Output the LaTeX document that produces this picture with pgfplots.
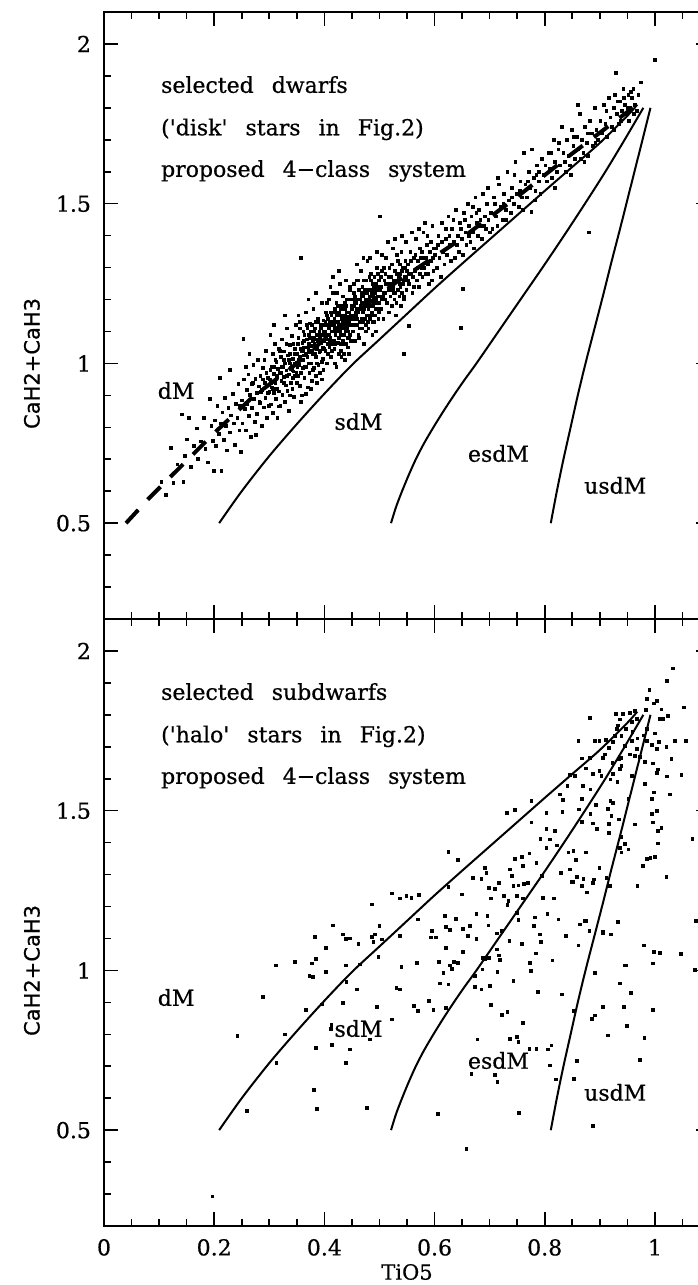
\documentclass[border=0pt]{standalone}
\usepackage{fontspec}
\setmainfont{DejaVu Serif}[FakeBold=0.6]
\setsansfont{DejaVu Sans}[FakeBold=0.6]
\usepackage{pgfplots}
\usepackage{pgfplotstable}
\pgfplotsset{compat=1.18}

\pgfplotstableread{
x y
0.209 0.50
0.25 0.60
0.30 0.71
0.35 0.81
0.40 0.905
0.45 0.995
0.50 1.075
0.55 1.155
0.60 1.235
0.65 1.312
0.70 1.388
0.75 1.464
0.80 1.54
0.85 1.615
0.90 1.69
0.95 1.775
0.968 1.81
}\sdMline
\pgfplotstableread{
x y
0.521 0.50
0.530 0.55
0.541 0.60
0.553 0.65
0.566 0.70
0.581 0.75
0.598 0.80
0.616 0.85
0.635 0.90
0.655 0.95
0.676 1.00
0.716 1.10
0.756 1.20
0.796 1.30
0.835 1.40
0.873 1.50
0.910 1.60
0.945 1.70
0.979 1.80
}\esdMline
\pgfplotstableread{
x y
0.811 0.50
0.822 0.60
0.834 0.70
0.847 0.80
0.860 0.90
0.874 1.00
0.889 1.10
0.904 1.20
0.920 1.31
0.938 1.43
0.957 1.56
0.976 1.69
0.992 1.80
}\usdMline
\pgfplotstableread{
x y
0.04 0.50
0.08 0.575
0.205 0.79
0.27 0.895
0.343 0.99
0.43 1.12
0.531 1.255
0.64 1.38
0.749 1.52
0.846 1.652
0.96 1.80
}\dwarfline

\pgfplotstableread{
x y
0.104 0.63
0.112 0.588
0.121 0.735
0.126 0.627
0.133 0.684
0.142 0.84
0.144 0.63
0.147 0.71
0.151 0.762
0.154 0.83
0.158 0.676
0.163 0.741
0.168 0.797
0.171 0.702
0.176 0.756
0.181 0.83
0.184 0.733
0.188 0.69
0.192 0.89
0.195 0.805
0.198 0.758
0.199 0.664
0.201 0.822
0.203 0.741
0.206 0.868
0.208 0.779
0.210 0.955
0.212 0.812
0.213 0.663
0.215 0.847
0.217 0.761
0.219 0.893
0.221 0.805
0.223 0.728
0.226 0.861
0.228 0.98
0.229 0.784
0.231 0.837
0.234 0.905
0.236 0.812
0.238 0.745
0.240 0.874
0.242 0.829
0.244 0.936
0.246 0.79
0.247 0.866
0.249 0.722
0.250 0.884
0.251 0.812
0.253 1.076
0.254 0.95
0.256 0.857
0.257 0.79
0.259 0.918
0.260 0.873
0.262 0.966
0.263 0.835
0.265 0.902
0.266 0.77
0.268 0.935
0.269 0.861
0.271 0.995
0.272 0.889
0.274 0.818
0.275 0.952
0.277 0.907
0.278 0.843
0.280 1.012
0.281 0.928
0.283 0.876
0.284 0.96
0.286 0.804
0.287 0.917
0.289 0.985
0.290 0.862
0.292 0.94
0.293 0.893
0.294 1.04
0.296 0.83
0.297 0.955
0.298 0.908
0.299 0.867
0.258 0.99
0.264 1.03
0.276 0.776
0.282 0.88
0.288 0.95
0.291 1.01
0.270 0.94
0.285 0.91
0.295 0.97
0.300 0.91
0.301 0.95
0.302 1.09
0.303 0.872
0.304 0.991
0.305 0.925
0.306 1.03
0.307 0.845
0.308 0.968
0.309 0.907
0.310 1.06
0.311 0.94
0.312 0.889
0.313 1.005
0.314 0.958
0.315 0.83
0.316 0.982
0.317 1.045
0.318 0.912
0.319 0.97
0.320 0.866
0.321 1.02
0.322 0.945
0.323 1.075
0.324 0.902
0.325 0.99
0.326 0.958
0.327 1.038
0.328 0.88
0.329 1.0
0.330 0.931
0.331 0.978
0.332 1.11
0.333 0.915
0.334 1.025
0.335 0.966
0.336 0.852
0.337 1.0
0.338 1.058
0.339 0.94
0.340 0.99
0.341 1.085
0.342 0.92
0.343 1.015
0.344 0.975
0.345 0.895
0.346 1.045
0.347 0.96
0.348 1.12
0.349 1.002
0.350 0.938
0.302 0.98
0.306 0.92
0.311 1.01
0.315 0.96
0.319 1.04
0.323 0.99
0.327 0.94
0.331 1.06
0.335 1.01
0.339 0.985
0.343 0.955
0.347 1.03
0.308 1.12
0.318 0.865
0.328 1.15
0.338 0.9
0.344 1.06
0.349 0.97
0.358 1.33
0.303 0.94
0.309 0.99
0.314 0.92
0.321 0.97
0.326 1.01
0.332 0.96
0.337 1.03
0.342 0.98
0.346 1.0
0.351 0.99
0.356 1.02
0.359 1.04
0.351 1.03
0.352 0.96
0.353 1.08
0.354 0.995
0.355 1.13
0.356 0.93
0.357 1.045
0.358 1.01
0.359 0.9
0.360 1.065
0.361 0.985
0.362 1.1
0.363 1.025
0.364 0.955
0.365 1.05
0.366 1.16
0.367 0.99
0.368 1.075
0.369 1.02
0.370 0.925
0.371 1.04
0.372 1.09
0.373 0.97
0.374 1.125
0.375 1.055
0.376 1.0
0.377 0.945
0.378 1.08
0.379 1.03
0.380 1.17
0.381 0.985
0.382 1.06
0.383 1.11
0.384 1.02
0.385 0.96
0.386 1.075
0.387 1.045
0.388 1.14
0.389 0.995
0.390 1.09
0.391 1.035
0.392 0.97
0.393 1.12
0.394 1.065
0.395 1.005
0.396 1.19
0.397 1.05
0.398 0.98
0.399 1.1
0.400 1.07
0.352 1.06
0.354 1.01
0.356 1.11
0.358 0.97
0.361 1.04
0.363 1.07
0.365 0.99
0.368 1.12
0.370 1.05
0.372 1.0
0.375 1.1
0.377 1.04
0.379 0.98
0.381 1.08
0.383 1.03
0.385 1.13
0.387 1.0
0.389 1.06
0.391 1.1
0.393 1.04
0.395 1.09
0.397 1.015
0.399 1.045
0.357 0.88
0.366 0.905
0.376 0.92
0.386 0.94
0.396 0.95
0.371 1.2
0.384 1.22
0.353 1.15
0.362 1.01
0.374 1.035
0.388 1.07
0.398 1.135
0.362 1.05
0.364 1.09
0.367 1.03
0.369 1.11
0.372 1.06
0.374 1.08
0.377 1.12
0.379 1.07
0.382 1.1
0.384 1.05
0.387 1.09
0.389 1.13
0.392 1.08
0.394 1.11
0.397 1.07
0.399 1.12
0.401 1.1
0.402 1.04
0.403 1.16
0.404 1.075
0.405 1.0
0.406 1.12
0.407 1.09
0.408 1.2
0.409 1.05
0.410 1.13
0.411 1.08
0.412 1.02
0.413 1.15
0.414 1.1
0.415 1.06
0.416 1.22
0.417 1.12
0.418 1.045
0.419 1.17
0.420 1.09
0.421 1.13
0.422 0.99
0.423 1.11
0.424 1.065
0.425 1.18
0.426 1.12
0.427 1.08
0.428 1.25
0.429 1.1
0.430 1.04
0.431 1.15
0.432 1.12
0.433 1.07
0.434 1.21
0.435 1.13
0.436 1.09
0.437 1.01
0.438 1.17
0.439 1.12
0.440 1.06
0.441 1.2
0.442 1.145
0.443 1.1
0.444 1.03
0.445 1.16
0.446 1.23
0.447 1.12
0.448 1.07
0.449 1.18
0.450 1.14
0.402 1.13
0.404 1.19
0.406 1.06
0.408 1.11
0.410 1.07
0.412 1.16
0.414 1.04
0.416 1.1
0.418 1.14
0.420 1.06
0.422 1.19
0.424 1.1
0.426 1.03
0.428 1.15
0.430 1.09
0.432 1.18
0.434 1.06
0.436 1.14
0.438 1.1
0.440 1.16
0.442 1.08
0.444 1.13
0.446 1.09
0.448 1.2
0.405 1.15
0.409 1.09
0.413 1.12
0.417 1.07
0.421 1.16
0.425 1.11
0.429 1.06
0.433 1.13
0.437 1.19
0.441 1.11
0.445 1.08
0.449 1.12
0.407 1.03
0.419 1.0
0.431 1.02
0.443 1.05
0.415 1.27
0.427 1.29
0.439 1.26
0.411 1.24
0.423 1.22
0.435 1.03
0.447 1.24
0.403 1.08
0.418 1.11
0.433 1.17
0.448 1.15
0.412 1.06
0.426 1.16
0.441 1.13
0.402 1.09
0.404 1.12
0.407 1.14
0.409 1.11
0.412 1.13
0.414 1.16
0.417 1.1
0.419 1.13
0.422 1.15
0.424 1.13
0.427 1.11
0.429 1.17
0.432 1.14
0.434 1.11
0.437 1.15
0.439 1.18
0.442 1.12
0.444 1.16
0.447 1.14
0.449 1.17
0.451 1.17
0.452 1.1
0.453 1.22
0.454 1.14
0.455 1.07
0.456 1.19
0.457 1.15
0.458 1.26
0.459 1.12
0.460 1.2
0.461 1.16
0.462 1.09
0.463 1.23
0.464 1.17
0.465 1.13
0.466 1.29
0.467 1.19
0.468 1.11
0.469 1.24
0.470 1.16
0.471 1.21
0.472 1.06
0.473 1.18
0.474 1.14
0.475 1.26
0.476 1.2
0.477 1.15
0.478 1.32
0.479 1.18
0.480 1.11
0.481 1.23
0.482 1.19
0.483 1.14
0.484 1.28
0.485 1.21
0.486 1.16
0.487 1.09
0.488 1.25
0.489 1.19
0.490 1.13
0.491 1.27
0.492 1.22
0.493 1.17
0.494 1.1
0.495 1.24
0.496 1.3
0.497 1.19
0.498 1.14
0.499 1.26
0.500 1.21
0.452 1.2
0.454 1.25
0.456 1.12
0.458 1.17
0.460 1.14
0.462 1.23
0.464 1.11
0.466 1.18
0.468 1.21
0.470 1.13
0.472 1.26
0.474 1.19
0.476 1.12
0.478 1.22
0.480 1.17
0.482 1.27
0.484 1.15
0.486 1.22
0.488 1.18
0.490 1.24
0.492 1.15
0.494 1.2
0.496 1.17
0.498 1.23
0.455 1.21
0.461 1.26
0.467 1.14
0.473 1.23
0.479 1.13
0.485 1.26
0.491 1.2
0.497 1.28
0.459 1.31
0.471 1.33
0.483 1.33
0.495 1.35
0.463 1.08
0.475 1.1
0.487 1.13
0.499 1.16
0.457 1.19
0.469 1.17
0.481 1.2
0.493 1.25
0.452 1.15
0.454 1.18
0.457 1.16
0.459 1.2
0.462 1.17
0.464 1.2
0.467 1.22
0.469 1.19
0.472 1.17
0.474 1.22
0.477 1.19
0.479 1.23
0.482 1.21
0.484 1.18
0.487 1.23
0.489 1.21
0.492 1.19
0.494 1.23
0.497 1.21
0.499 1.19
0.501 1.23
0.503 1.17
0.504 1.29
0.506 1.21
0.507 1.14
0.509 1.26
0.510 1.22
0.512 1.33
0.513 1.19
0.515 1.25
0.516 1.16
0.518 1.3
0.519 1.23
0.521 1.27
0.522 1.18
0.524 1.36
0.525 1.24
0.527 1.2
0.528 1.29
0.530 1.15
0.531 1.26
0.533 1.23
0.534 1.32
0.536 1.21
0.537 1.28
0.539 1.18
0.540 1.35
0.542 1.25
0.543 1.3
0.545 1.21
0.546 1.27
0.548 1.38
0.549 1.23
0.550 1.29
0.502 1.27
0.505 1.2
0.508 1.3
0.511 1.25
0.514 1.19
0.517 1.27
0.520 1.21
0.523 1.31
0.526 1.26
0.529 1.22
0.532 1.34
0.535 1.27
0.538 1.24
0.541 1.29
0.544 1.2
0.547 1.32
0.515 1.38
0.528 1.39
0.541 1.4
0.505 1.34
0.518 1.16
0.531 1.19
0.544 1.26
0.511 1.28
0.524 1.23
0.537 1.31
0.549 1.27
0.503 1.24
0.507 1.22
0.511 1.2
0.516 1.23
0.521 1.25
0.526 1.22
0.531 1.28
0.536 1.25
0.541 1.22
0.546 1.3
0.551 1.26
0.501 1.46
0.545 1.03
0.553 1.118
0.552 1.31
0.554 1.25
0.556 1.35
0.558 1.28
0.560 1.22
0.562 1.33
0.564 1.29
0.566 1.39
0.568 1.26
0.570 1.32
0.572 1.24
0.574 1.36
0.576 1.3
0.578 1.27
0.580 1.41
0.582 1.33
0.584 1.28
0.586 1.37
0.588 1.31
0.590 1.25
0.592 1.35
0.594 1.32
0.596 1.43
0.598 1.29
0.600 1.34
0.553 1.28
0.557 1.32
0.561 1.27
0.565 1.34
0.569 1.3
0.573 1.28
0.577 1.35
0.581 1.3
0.585 1.33
0.589 1.28
0.593 1.38
0.597 1.33
0.559 1.41
0.571 1.42
0.583 1.44
0.595 1.26
0.563 1.24
0.575 1.33
0.587 1.4
0.599 1.36
0.602 1.36
0.604 1.3
0.607 1.4
0.609 1.33
0.611 1.27
0.614 1.44
0.616 1.35
0.618 1.31
0.621 1.39
0.623 1.34
0.625 1.46
0.628 1.37
0.630 1.32
0.632 1.42
0.635 1.38
0.637 1.33
0.639 1.48
0.642 1.4
0.644 1.35
0.646 1.44
0.649 1.39
0.651 1.34
0.653 1.47
0.652 1.233
0.648 1.111
0.656 1.41
0.658 1.37
0.660 1.5
0.663 1.43
0.665 1.38
0.667 1.46
0.670 1.41
0.672 1.36
0.674 1.52
0.677 1.44
0.679 1.4
0.681 1.48
0.684 1.43
0.686 1.39
0.688 1.53
0.691 1.46
0.693 1.42
0.695 1.5
0.698 1.45
0.700 1.41
0.606 1.37
0.613 1.38
0.620 1.42
0.627 1.4
0.634 1.45
0.641 1.37
0.648 1.42
0.655 1.45
0.662 1.4
0.669 1.49
0.676 1.47
0.683 1.45
0.690 1.43
0.697 1.55
0.702 1.47
0.705 1.42
0.708 1.52
0.711 1.46
0.714 1.43
0.717 1.56
0.720 1.49
0.723 1.45
0.726 1.53
0.729 1.48
0.732 1.6
0.735 1.51
0.738 1.47
0.741 1.55
0.744 1.5
0.747 1.63
0.750 1.53
0.753 1.49
0.756 1.57
0.759 1.52
0.762 1.66
0.765 1.56
0.768 1.52
0.771 1.6
0.774 1.55
0.776 1.474
0.777 1.67
0.780 1.58
0.783 1.54
0.786 1.62
0.789 1.57
0.792 1.53
0.795 1.64
0.798 1.59
0.710 1.5
0.725 1.5
0.740 1.52
0.755 1.54
0.770 1.57
0.785 1.59
0.715 1.58
0.745 1.59
0.760 1.48
0.790 1.6
0.730 1.45
0.782 1.51
0.801 1.62
0.804 1.57
0.807 1.66
0.810 1.61
0.813 1.58
0.816 1.7
0.819 1.63
0.822 1.6
0.825 1.67
0.828 1.62
0.831 1.74
0.834 1.66
0.837 1.63
0.840 1.7
0.843 1.65
0.846 1.62
0.849 1.73
0.852 1.68
0.855 1.64
0.858 1.71
0.861 1.67
0.864 1.78
0.867 1.7
0.870 1.66
0.873 1.74
0.876 1.69
0.879 1.65
0.882 1.76
0.885 1.72
0.888 1.68
0.891 1.8
0.894 1.73
0.897 1.7
0.880 1.41
0.812 1.66
0.826 1.69
0.839 1.6
0.853 1.71
0.866 1.64
0.878 1.72
0.892 1.69
0.818 1.55
0.848 1.59
0.872 1.63
0.860 1.81
0.901 1.76
0.904 1.72
0.907 1.81
0.910 1.75
0.913 1.71
0.916 1.83
0.919 1.77
0.922 1.74
0.925 1.8
0.928 1.84
0.929 1.91
0.931 1.78
0.934 1.75
0.937 1.82
0.940 1.79
0.943 1.86
0.946 1.81
0.949 1.78
0.952 1.84
0.955 1.8
0.958 1.83
0.961 1.86
0.964 1.81
0.967 1.79
0.970 1.84
0.926 1.73
0.938 1.76
0.950 1.8
0.962 1.78
0.944 1.83
0.956 1.85
0.912 1.79
0.932 1.82
0.953 1.76
1.000 1.95
0.975 1.88
}\diskdata

\pgfplotstableread{
x y
0.522 1.241
0.486 1.207
0.537 1.225
0.549 1.233
0.416 1.141
0.383 1.106
0.434 1.113
0.439 1.099
0.446 1.100
0.403 1.071
0.462 1.082
0.486 1.106
0.492 1.113
0.489 1.089
0.504 1.097
0.500 1.139
0.537 1.108
0.385 1.037
0.377 1.022
0.347 1.026
0.312 1.016
0.373 0.982
0.379 0.980
0.403 0.995
0.439 1.016
0.465 1.019
0.498 1.043
0.540 1.011
0.440 0.964
0.459 0.941
0.531 0.946
0.537 0.941
0.288 0.917
0.367 0.876
0.395 0.894
0.434 0.899
0.496 0.885
0.522 0.847
0.242 0.794
0.328 0.800
0.413 0.829
0.412 0.818
0.414 0.766
0.385 0.758
0.446 0.753
0.483 0.784
0.439 0.711
0.313 0.711
0.381 0.627
0.386 0.567
0.477 0.570
0.558 1.228
0.572 1.236
0.625 1.262
0.649 1.238
0.699 1.259
0.710 1.256
0.717 1.275
0.743 1.264
0.752 1.266
0.762 1.270
0.770 1.273
0.849 1.277
0.868 1.266
0.888 1.273
0.918 1.266
0.702 1.225
0.726 1.233
0.734 1.217
0.732 1.204
0.749 1.233
0.760 1.225
0.797 1.228
0.817 1.225
0.876 1.244
0.570 1.160
0.595 1.123
0.594 1.103
0.603 1.103
0.619 1.170
0.621 1.137
0.628 1.126
0.639 1.162
0.652 1.129
0.661 1.108
0.664 1.139
0.676 1.176
0.676 1.099
0.696 1.170
0.698 1.141
0.713 1.116
0.722 1.123
0.736 1.092
0.750 1.181
0.752 1.158
0.758 1.084
0.782 1.166
0.780 1.139
0.791 1.113
0.793 1.089
0.805 1.176
0.825 1.160
0.838 1.108
0.864 1.144
0.873 1.155
0.881 1.123
0.906 1.120
0.920 1.113
0.933 1.151
0.861 1.078
0.568 1.024
0.608 1.026
0.616 0.993
0.621 1.071
0.628 1.016
0.631 1.005
0.635 1.026
0.643 1.024
0.652 1.057
0.673 0.982
0.688 1.040
0.691 1.037
0.699 1.040
0.687 1.003
0.713 1.066
0.714 0.995
0.717 1.047
0.719 1.032
0.743 0.967
0.773 1.024
0.775 0.998
0.784 1.053
0.814 1.031
0.831 0.925
0.788 0.932
0.891 0.993
0.937 0.959
0.947 1.016
0.610 0.959
0.625 0.956
0.673 0.949
0.685 0.941
0.701 0.951
0.590 0.904
0.563 0.888
0.570 0.873
0.598 0.876
0.621 0.883
0.702 0.891
0.722 0.860
0.732 0.870
0.761 0.836
0.852 0.873
0.885 0.849
0.891 0.859
0.906 0.886
0.915 0.797
0.944 0.886
0.949 0.826
0.678 0.784
0.737 0.786
0.749 0.792
0.752 0.777
0.772 0.755
0.785 0.755
0.806 0.753
0.812 0.765
0.809 0.703
0.859 0.716
0.853 0.661
0.820 0.659
0.667 0.677
0.710 0.674
0.714 0.650
0.776 1.530
0.731 1.494
0.746 1.502
0.803 1.494
0.776 1.463
0.803 1.442
0.792 1.412
0.809 1.410
0.818 1.436
0.803 1.384
0.822 1.391
0.625 1.370
0.643 1.345
0.746 1.348
0.758 1.356
0.772 1.366
0.760 1.327
0.691 1.322
0.737 1.316
0.694 1.306
0.669 1.290
0.685 1.287
0.795 1.295
0.740 1.295
0.785 1.337
1.033 1.945
1.022 1.906
0.990 1.878
0.985 1.849
0.998 1.836
1.003 1.843
1.012 1.817
1.053 1.823
0.882 1.791
0.929 1.802
0.936 1.786
0.942 1.802
0.955 1.807
0.964 1.812
0.933 1.767
0.931 1.755
0.958 1.778
0.967 1.788
0.984 1.815
1.008 1.788
1.014 1.788
1.024 1.796
0.947 1.757
0.959 1.746
0.927 1.734
0.939 1.734
0.979 1.736
0.985 1.755
1.000 1.742
0.968 1.726
0.861 1.718
0.891 1.718
0.899 1.718
0.911 1.721
0.924 1.715
0.958 1.718
0.986 1.718
1.007 1.715
1.036 1.718
1.056 1.718
0.917 1.697
0.946 1.702
0.967 1.694
0.994 1.705
1.004 1.694
1.021 1.700
0.909 1.676
0.955 1.676
0.964 1.671
0.906 1.666
0.939 1.666
0.867 1.664
0.882 1.666
1.030 1.663
0.923 1.650
0.935 1.661
0.939 1.640
0.973 1.669
0.982 1.652
0.997 1.648
1.006 1.629
0.875 1.632
0.888 1.614
0.899 1.624
0.903 1.609
0.924 1.614
0.936 1.630
0.958 1.609
0.919 1.598
0.932 1.590
0.846 1.611
0.855 1.609
0.841 1.577
0.869 1.577
0.883 1.567
1.022 1.607
1.048 1.611
1.004 1.619
0.982 1.583
1.027 1.551
0.998 1.557
0.828 1.551
0.833 1.533
0.867 1.536
0.919 1.530
0.924 1.525
0.952 1.536
0.994 1.536
0.862 1.504
0.832 1.496
0.883 1.489
0.893 1.517
0.915 1.506
0.921 1.483
1.003 1.499
0.994 1.489
0.867 1.464
0.887 1.460
0.917 1.459
0.935 1.473
0.964 1.457
0.895 1.442
0.917 1.431
0.996 1.463
1.006 1.436
1.012 1.447
1.068 1.412
0.843 1.369
0.852 1.374
0.875 1.369
0.857 1.345
0.936 1.384
0.945 1.395
0.939 1.369
0.952 1.379
0.939 1.419
0.985 1.348
0.992 1.353
1.000 1.356
0.978 1.327
1.006 1.398
0.829 1.306
0.846 1.316
0.899 1.322
0.859 1.293
0.870 1.287
0.851 1.277
0.889 1.285
0.918 1.264
0.912 1.290
0.876 1.244
0.868 1.264
0.968 1.264
1.021 1.293
0.865 1.144
0.875 1.155
0.933 1.151
0.839 1.110
0.906 1.118
0.921 1.113
0.861 1.078
0.980 1.078
0.998 1.057
1.009 1.055
1.047 1.052
0.945 1.016
0.997 1.022
1.074 1.155
1.072 1.001
0.957 0.930
0.997 0.876
0.981 0.789
0.973 0.719
0.197 0.293
0.606 0.552
0.658 0.442
0.753 0.554
0.888 0.513
0.259 0.560
}\halodata

\pgfplotsset{
  panel/.style={
    scale only axis, width=303pt, height=303.5pt,
    xmin=0, xmax=1.1, ymin=0.2, ymax=2.1,
    xtick={0,0.2,...,1.2}, minor x tick num=3,
    ytick={0,0.5,...,2.5}, minor y tick num=4,
    tick align=inside,
    major tick length=7pt, minor tick length=3.6pt,
    axis line style={line width=0.9pt},
    every tick/.style={black, line width=0.8pt},
    /pgf/number format/assume math mode=true,
    ticklabel style={font=\fontsize{11}{13}\selectfont},
    yticklabel style={xshift=-3pt},
    xticklabel style={yshift=-3pt},
    ylabel={CaH2+CaH3},
    ylabel style={font=\sffamily\fontsize{10.5}{12}\selectfont,
      at={(axis description cs:-0.119,0.421)}, anchor=center},
  },
  dots/.style={only marks, mark=square*, mark size=0.68pt, black},
  bound/.style={black, line width=1pt, smooth},
}
\tikzset{
  lbl/.style={font=\fontsize{11}{13}\selectfont, anchor=center},
  txt/.style={font=\fontsize{11}{13}\selectfont, anchor=base west, inner sep=0pt},
}
\newcommand{\ws}{\hspace{9pt}}

\begin{document}
\begin{tikzpicture}
\begin{axis}[panel, at={(0,0)}, anchor=south west,
  xlabel={TiO5},
  xlabel style={font=\fontsize{10.5}{12}\selectfont,
    at={(axis description cs:0.5,-0.0758)}, anchor=center}]
  \addplot[dots] table[x=x,y=y] {\halodata};
  \addplot[bound] table[x=x,y=y] {\sdMline};
  \addplot[bound] table[x=x,y=y] {\esdMline};
  \addplot[bound] table[x=x,y=y] {\usdMline};
  \node[txt] at (axis cs:0.103,1.847) {selected\ws subdwarfs};
  \node[txt] at (axis cs:0.103,1.714) {(\textquotesingle halo\textquotesingle\ws stars\ws in\ws Fig.2)};
  \node[txt] at (axis cs:0.103,1.584) {proposed\ws 4−class\ws system};
  \node[lbl] at (axis cs:0.131,0.915) {dM};
  \node[lbl] at (axis cs:0.462,0.818) {sdM};
  \node[lbl] at (axis cs:0.716,0.718) {esdM};
  \node[lbl] at (axis cs:0.928,0.618) {usdM};
\end{axis}
\begin{axis}[panel, at={(0,303.5pt)}, anchor=south west, xticklabel=\empty]
  \addplot[dots] table[x=x,y=y] {\diskdata};
  \addplot[black, line width=2pt, dash pattern=on 9pt off 7pt] table[x=x,y=y] {\dwarfline};
  \addplot[bound] table[x=x,y=y] {\sdMline};
  \addplot[bound] table[x=x,y=y] {\esdMline};
  \addplot[bound] table[x=x,y=y] {\usdMline};
  \node[txt] at (axis cs:0.103,1.847) {selected\ws dwarfs};
  \node[txt] at (axis cs:0.103,1.714) {(\textquotesingle disk\textquotesingle\ws stars\ws in\ws Fig.2)};
  \node[txt] at (axis cs:0.103,1.584) {proposed\ws 4−class\ws system};
  \node[lbl] at (axis cs:0.131,0.915) {dM};
  \node[lbl] at (axis cs:0.462,0.818) {sdM};
  \node[lbl] at (axis cs:0.716,0.718) {esdM};
  \node[lbl] at (axis cs:0.928,0.618) {usdM};
\end{axis}
\pgfresetboundingbox
\path[use as bounding box] (-52pt,-29.5pt) rectangle (296.5pt,613pt);
\end{tikzpicture}
\end{document}
